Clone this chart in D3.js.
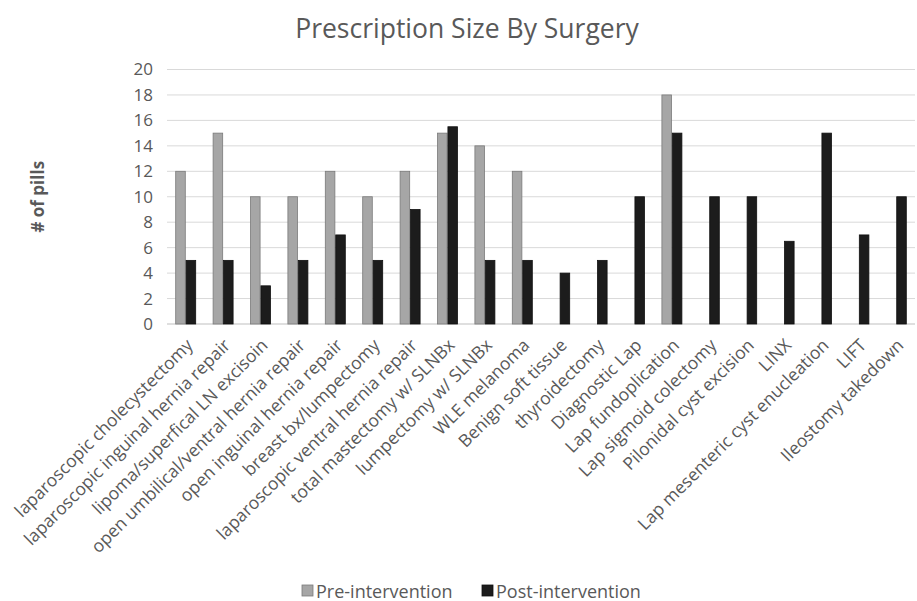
<!DOCTYPE html>
<html>
<head>
    <meta charset="utf-8">
    <title>Prescription Size By Surgery</title>
    <script src="https://cdn.jsdelivr.net/npm/d3@7"></script>
    <style>
        body { margin: 0; background: #fff; }
        text { font-family: "Open Sans", "Noto Sans", sans-serif; fill: #595959; }
    </style>
</head>
<body>
<script>
    var w = 917, h = 601;

    var surgeries = ["laparoscopic cholecystectomy", "laparoscopic inguinal hernia repair",
        "lipoma/superfical LN excisoin", "open umbilical/ventral hernia repair",
        "open inguinal hernia repair", "breast bx/lumpectomy", "laparoscopic ventral hernia repair",
        "total mastectomy w/ SLNBx", "lumpectomy w/ SLNBx", "WLE melanoma", "Benign soft tissue",
        "thyroidectomy", "Diagnostic Lap", "Lap fundoplication", "Lap sigmoid colectomy",
        "Pilonidal cyst excision", "LINX", "Lap mesenteric cyst enucleation", "LIFT",
        "Ileostomy takedown"];
    var preValues = [12, 15, 10, 10, 12, 10, 12, 15, 14, 12, null, null, null, 18, null, null, null, null, null, null];
    var postValues = [5, 5, 3, 5, 7, 5, 9, 15.5, 5, 5, 4, 5, 10, 15, 10, 10, 6.5, 15, 7, 10];
    var seriesNames = ["Pre-intervention", "Post-intervention"];
    var yTicks = [0, 2, 4, 6, 8, 10, 12, 14, 16, 18, 20];

    var plotL = 167, plotR = 915, plotT = 69.5, plotB = 324;

    var svg = d3.select("body").append("svg")
        .attr("width", w).attr("height", h);

    var x = d3.scaleBand().domain(surgeries).range([plotL, plotR]);
    var inner = d3.scaleBand().domain(seriesNames)
        .range([x.bandwidth() / 2 - 10, x.bandwidth() / 2 + 10]).paddingInner(0.08);
    var y = d3.scaleLinear().domain([0, 20]).range([plotB, plotT]);

    // gridlines
    svg.append("g").selectAll("line").data(yTicks).enter().append("line")
        .attr("x1", plotL).attr("x2", plotR)
        .attr("y1", d => y(d)).attr("y2", d => y(d))
        .attr("stroke", d => d === 0 ? "#bfbfbf" : "#d9d9d9").attr("stroke-width", 1);

    // y axis labels
    var yAxis = d3.axisLeft(y).tickValues(yTicks).tickSize(0).tickPadding(14);
    var gy = svg.append("g").attr("transform", "translate(" + plotL + ",0)").call(yAxis);
    gy.select(".domain").remove();
    gy.selectAll("text").style("font-size", "17px").attr("fill", "#595959")
        .style("font-family", '"Open Sans", sans-serif');

    var colors = { "Pre-intervention": "#a6a6a6", "Post-intervention": "#1c1c1c" };
    var strokes = { "Pre-intervention": "#7a7a7a", "Post-intervention": "#111" };

    var rows = surgeries.map((s, i) => ({ s: s, vals: [
        { k: seriesNames[0], v: preValues[i] }, { k: seriesNames[1], v: postValues[i] }] }));

    var groups = svg.selectAll(".grp").data(rows).enter().append("g")
        .attr("transform", d => "translate(" + x(d.s) + ",0)");
    groups.selectAll("rect").data(d => d.vals.filter(v => v.v != null)).enter().append("rect")
        .attr("x", d => inner(d.k))
        .attr("width", inner.bandwidth())
        .attr("y", d => y(d.v))
        .attr("height", d => y(0) - y(d.v))
        .attr("fill", d => colors[d.k])
        .attr("stroke", d => strokes[d.k]).attr("stroke-width", 0.8);

    // x axis labels, rotated
    var xAxis = d3.axisBottom(x).tickSize(0).tickPadding(0);
    var gx = svg.append("g").attr("transform", "translate(0," + plotB + ")").call(xAxis);
    gx.select(".domain").remove();
    gx.selectAll("text")
        .style("font-size", "17.5px").attr("fill", "#595959")
        .style("font-family", '"Open Sans", sans-serif')
        .attr("text-anchor", "end")
        .attr("dy", "0.35em")
        .attr("transform", "translate(4,18) rotate(-45)");

    // title
    svg.append("text").attr("x", 467).attr("y", 38).attr("text-anchor", "middle")
        .style("font-size", "26.5px").text("Prescription Size By Surgery");

    // y axis title
    svg.append("text").attr("transform", "translate(44," + ((plotT + plotB) / 2) + ") rotate(-90)")
        .attr("text-anchor", "middle").style("font-size", "17px").style("font-weight", "bold")
        .text("# of pills");

    // legend
    var legendX = [302, 482];
    var lg = svg.selectAll(".lg").data(seriesNames).enter().append("g")
        .attr("transform", (d, i) => "translate(" + legendX[i] + ",585)");
    lg.append("rect").attr("width", 11).attr("height", 11)
        .attr("fill", d => colors[d]).attr("stroke", d => strokes[d]).attr("stroke-width", 0.8);
    lg.append("text").attr("x", 14).attr("y", 12.5).style("font-size", "18px").text(d => d);
</script>
</body>
</html>
